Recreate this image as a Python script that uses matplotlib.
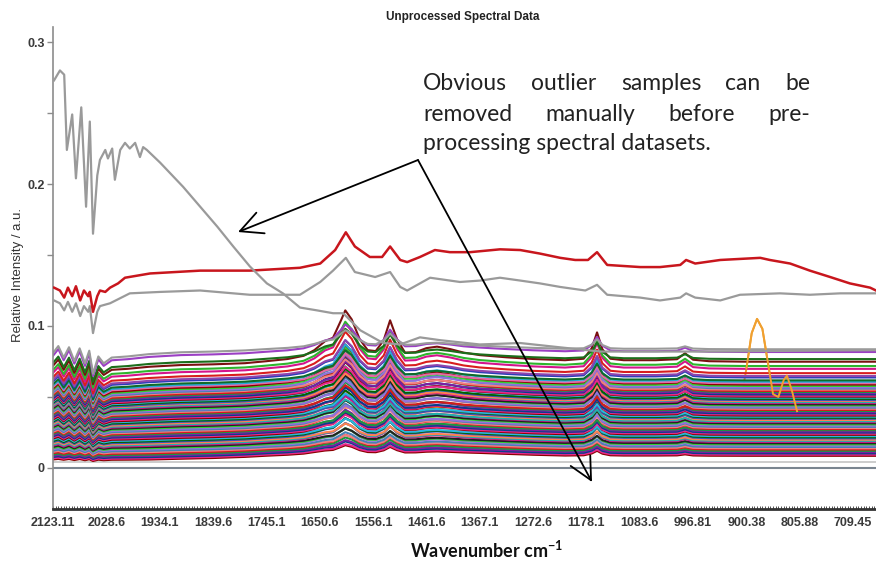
import numpy as np
import matplotlib.pyplot as plt
from matplotlib.ticker import MultipleLocator

# x axis is drawn on the tick-index scale; labels carry the wavenumbers
tick_labels = ['2123.11', '2028.6', '1934.1', '1839.6', '1745.1', '1650.6',
               '1556.1', '1461.6', '1367.1', '1272.6', '1178.1', '1083.6',
               '996.81', '900.38', '805.88', '709.45']
tick_pos = np.arange(len(tick_labels))

# shared knot positions for the bulk spectra
knots = [0.00, 0.10, 0.20, 0.30, 0.40, 0.50, 0.60, 0.68, 0.75, 0.85,
         0.95, 1.10, 1.40, 1.80, 2.40, 3.00, 3.60, 4.00, 4.40, 4.70,
         4.90, 5.10, 5.25, 5.40, 5.48, 5.60, 5.75, 5.90, 6.05, 6.20,
         6.32, 6.45, 6.60, 6.80, 7.00, 7.20, 7.45, 7.70, 8.00, 8.50,
         9.00, 9.60, 9.95, 10.10, 10.20, 10.30, 10.45, 10.70, 11.30, 11.70,
         11.85, 12.00, 12.30, 13.00, 13.60, 14.20, 14.80, 15.45]
# relative ripple in the high-wavenumber end
ripple = [0, 0.06, -0.04, 0.05, -0.07, 0.04, -0.09, 0.02, -0.18, -0.03,
          -0.09, -0.04, -0.03, -0.01] + [0] * 44
# common baseline lift
lift = ([0] * 14 + [0.0005, 0.001, 0.0018, 0.0025, 0.003, 0.0035]
        + [0.004] * 19 + [0.0035, 0.003] + [0.0025] * 17)
# band profile (1 = amide band maximum)
bands = ([0] * 17 + [0.02, 0.05, 0.10, 0.20, 0.38, 0.45, 0.80, 1.00, 0.82, 0.42,
                     0.20, 0.18, 0.40, 0.80, 0.42, 0.15, 0.16, 0.24, 0.27, 0.22,
                     0.15, 0.10, 0.07, 0.05, 0.04, 0.07, 0.28, 0.60, 0.26, 0.07,
                     0.04, 0.04, 0.06, 0.18, 0.05, 0.02, 0.01, 0.01, 0.01, 0.01,
                     0.01])

sample_level = [0.081, 0.079, 0.074, 0.072, 0.069, 0.067, 0.064, 0.062, 0.061, 0.059,
                0.058, 0.057, 0.056,
                0.0550, 0.0540, 0.0532, 0.0525, 0.0515, 0.0508, 0.0500, 0.0490, 0.0482, 0.0475,
                0.0468, 0.0460, 0.0451, 0.0445, 0.0437, 0.0430, 0.0421, 0.0413, 0.0405, 0.0398,
                0.0390, 0.0382, 0.0375, 0.0366, 0.0358, 0.0350, 0.0342, 0.0335, 0.0327, 0.0320,
                0.0311, 0.0303, 0.0296, 0.0288, 0.0280, 0.0271, 0.0263, 0.0255, 0.0247, 0.0240,
                0.0231, 0.0223, 0.0215, 0.0207, 0.0198, 0.0190, 0.0182, 0.0173, 0.0165, 0.0157,
                0.0148, 0.0140, 0.0131, 0.0122, 0.0113, 0.0104, 0.0095, 0.0086, 0.0077, 0.0068,
                0.0060]
sample_peak = [0.012, 0.018, 0.020, 0.035, 0.030, 0.031, 0.028, 0.024, 0.025, 0.020,
               0.025, 0.020, 0.027,
               0.026, 0.022, 0.028, 0.020, 0.024, 0.027, 0.021, 0.025, 0.019, 0.023,
               0.026, 0.020, 0.022, 0.018, 0.024, 0.021, 0.019, 0.023, 0.017, 0.020,
               0.022, 0.016, 0.019, 0.021, 0.017, 0.018, 0.020, 0.015, 0.018, 0.016,
               0.019, 0.014, 0.017, 0.015, 0.016, 0.013, 0.015, 0.014, 0.016, 0.012,
               0.014, 0.013, 0.012, 0.014, 0.011, 0.012, 0.013, 0.010, 0.011, 0.012,
               0.009, 0.010, 0.011, 0.009, 0.008, 0.009, 0.008, 0.007, 0.007, 0.006,
               0.006]

top_colors = ['#9a9a9a', '#9b3fc4', '#1b6e1b', '#7a1010', '#2db52d', '#d4148c',
              '#d81e1e', '#8e44ad', '#2a3fb8', '#0f6b2a', '#27a9d8', '#e46aa6', '#8b0000']
palette = ['#d7191c', '#1a9641', '#7b1fa2', '#0b3c8c', '#e7298a', '#8b0000',
           '#2bb5e0', '#006400', '#3f51b5', '#ff7f50', '#20b2aa', '#c71585',
           '#222222', '#32cd32', '#9370db', '#4682b4', '#f08080']

# outlier spectra
grey_big_x = [0.02, 0.13, 0.21, 0.26, 0.36, 0.43, 0.53, 0.62, 0.69, 0.75, 0.83, 0.88,
              0.98, 1.03, 1.11, 1.16, 1.26, 1.35, 1.44, 1.54, 1.63, 1.69, 1.76, 2.01,
              2.44, 2.76, 3.08, 3.38, 3.69, 4.01, 4.31, 4.63, 4.95, 5.25, 5.44, 5.76,
              6.19, 6.51, 6.88, 7.26, 8.00, 8.76, 9.50, 10.26, 12.13, 15.43]
grey_big_y = [0.273, 0.280, 0.277, 0.224, 0.249, 0.204, 0.254, 0.184, 0.244, 0.165, 0.206, 0.217,
              0.224, 0.218, 0.225, 0.203, 0.224, 0.229, 0.225, 0.229, 0.219, 0.226, 0.224, 0.215,
              0.198, 0.184, 0.170, 0.156, 0.142, 0.130, 0.123, 0.113, 0.111, 0.109, 0.109, 0.097,
              0.088, 0.087, 0.092, 0.090, 0.087, 0.088, 0.085, 0.082, 0.082, 0.083]

red_x = [0.02, 0.13, 0.21, 0.28, 0.36, 0.43, 0.51, 0.58, 0.66, 0.69, 0.75, 0.83, 0.88,
         0.98, 1.07, 1.22, 1.35, 1.82, 2.76, 3.69, 4.63, 5.01, 5.29, 5.49, 5.66, 5.94,
         6.17, 6.32, 6.51, 6.64, 6.88, 7.16, 7.44, 7.82, 8.38, 8.76, 9.13, 9.51, 9.79,
         10.03, 10.20, 10.39, 11.01, 11.38, 11.76, 11.87, 12.04, 12.51, 13.26, 13.44,
         13.82, 14.19, 14.57, 14.94, 15.32, 15.43]
red_y = [0.127, 0.125, 0.120, 0.127, 0.121, 0.128, 0.118, 0.125, 0.121, 0.124, 0.110, 0.121, 0.125,
         0.124, 0.127, 0.130, 0.134, 0.137, 0.139, 0.139, 0.141, 0.144, 0.1535, 0.166, 0.156, 0.1486,
         0.1486, 0.156, 0.1465, 0.145, 0.1486, 0.1535, 0.152, 0.152, 0.154, 0.1535, 0.151, 0.148, 0.1465,
         0.1465, 0.152, 0.143, 0.1415, 0.1415, 0.143, 0.1465, 0.144, 0.1465, 0.148, 0.1465,
         0.144, 0.139, 0.1345, 0.130, 0.127, 0.125]

grey2_x = [0.02, 0.13, 0.21, 0.28, 0.36, 0.43, 0.51, 0.58, 0.66, 0.69, 0.75, 0.83, 0.88,
           1.07, 1.44, 2.01, 2.76, 3.69, 4.63, 5.01, 5.25, 5.49, 5.66, 6.04, 6.32, 6.51,
           6.64, 7.07, 7.63, 8.01, 8.38, 8.76, 9.13, 9.51, 9.98, 10.20, 10.39, 11.01,
           11.38, 11.76, 11.87, 12.04, 12.51, 12.88, 13.63, 14.19, 14.76, 15.43]
grey2_y = [0.118, 0.116, 0.111, 0.117, 0.110, 0.116, 0.107, 0.114, 0.110, 0.114, 0.095, 0.110, 0.114,
           0.116, 0.123, 0.124, 0.125, 0.122, 0.122, 0.131, 0.139, 0.148, 0.138, 0.1345, 0.138, 0.1275,
           0.125, 0.134, 0.131, 0.132, 0.134, 0.132, 0.130, 0.1275, 0.125, 0.129, 0.122, 0.120,
           0.118, 0.120, 0.123, 0.120, 0.118, 0.122, 0.123, 0.122, 0.123, 0.123]

orange_x = [0.0, 12.40, 12.70, 12.90, 13.00, 13.10, 13.20, 13.30, 13.40, 13.50,
            13.60, 13.70, 13.76, 13.85, 13.95, 14.05, 14.30, 15.43]
orange_y = [0.042, 0.043, 0.044, 0.048, 0.070, 0.095, 0.105, 0.098, 0.075, 0.052,
            0.050, 0.062, 0.065, 0.055, 0.040, 0.031, 0.029, 0.030]

floor_x = [0.0, 15.43]
floor_y = [0.004, 0.004]

note_lines = [['Obvious', 'outlier', 'samples', 'can', 'be'],
              ['removed', 'manually', 'before', 'pre-']]
note_last = 'processing spectral datasets.'

fig = plt.figure(figsize=(8.76, 5.61), dpi=100)
ax = fig.add_axes([53 / 876, 52 / 561, 823 / 876, 482 / 561])

k = np.array(knots)
lvl = np.array(sample_level)[:, None]
pk = np.array(sample_peak)[:, None]
spectra = lvl * (1 + np.array(ripple)) + np.array(lift) + pk * np.array(bands)

ax.plot(floor_x, floor_y, color='#c8c8c8', lw=1.3, zorder=1)
ax.plot(orange_x, orange_y, color='#f0a030', lw=1.4, zorder=1.5)
for i in range(len(spectra) - 1, -1, -1):
    c = top_colors[i] if i < len(top_colors) else palette[i % len(palette)]
    ax.plot(k, spectra[i], color=c, lw=1.5, zorder=2)
ax.plot(orange_x[4:15], orange_y[4:15], color='#f0a030', lw=1.4, zorder=3)
ax.plot(grey2_x, grey2_y, color='#9a9a9a', lw=1.6, zorder=3)
ax.plot(red_x, red_y, color='#c8161d', lw=1.8, zorder=3)
ax.plot(grey_big_x, grey_big_y, color='#9a9a9a', lw=1.6, zorder=3)
ax.axhline(0, color='#7a8590', lw=1.5, zorder=1)

ax.set_xlim(0, 15.43)
ax.set_ylim(-0.0289, 0.3106)

for s in ['top', 'right']:
    ax.spines[s].set_visible(False)
ax.spines['left'].set_color('#8c8c8c')
ax.spines['left'].set_linewidth(1.2)
ax.spines['bottom'].set_color('#333333')
ax.spines['bottom'].set_linewidth(2)

tick_font = dict(family='Liberation Sans', weight='bold', size=9)
ax.set_xticks(tick_pos)
ax.set_xticklabels(tick_labels, color='#3a3a3a', **tick_font)
ax.xaxis.set_minor_locator(MultipleLocator(0.05))
ax.tick_params(axis='x', which='both', direction='in', length=2.5, width=0.6,
               color='#333333', pad=6)
ax.set_yticks([0, 0.1, 0.2, 0.3])
ax.set_yticklabels(['0', '0.1', '0.2', '0.3'], color='#3a3a3a', **tick_font)
ax.yaxis.set_minor_locator(MultipleLocator(0.05))
ax.tick_params(axis='y', which='both', direction='out', length=4, width=1,
               color='#8c8c8c', pad=2)

fig.text(463 / 876, 1 - 17 / 561, 'Unprocessed Spectral Data', ha='center', va='center',
         family='Liberation Sans', weight='bold', size=8.5, color='#222222')
fig.text(18 / 876, 1 - 275 / 561, 'Relative Intensity / a.u.', rotation=90,
         ha='center', va='center', family='Liberation Sans', size=9.5, color='#333333')
plt.rcParams['mathtext.default'] = 'regular'
fig.text(487 / 876, 1 - 550 / 561, 'Wavenumber cm$^{-1}$', ha='center', va='center',
         family='Lato', weight='bold', size=13, color='#111111')

# justified note: first two lines spread between 423 px and 810 px
note_font = dict(family='Lato', size=16.5, color='#222222', va='baseline')
left_px, right_px = 423, 810
renderer = fig.canvas.get_renderer()
for words, base in zip(note_lines, [90, 121]):
    texts = [fig.text(0, 1 - base / 561, w, **note_font) for w in words]
    widths = [t.get_window_extent(renderer).width for t in texts]
    gap = (right_px - left_px - sum(widths)) / (len(words) - 1)
    x = left_px
    for t, w in zip(texts, widths):
        t.set_x(x / 876)
        x += w + gap
fig.text(left_px / 876, 1 - 150 / 561, note_last, **note_font)

arrow = dict(arrowstyle='->,head_length=0.8,head_width=0.4', color='black', lw=1.3,
             mutation_scale=20, shrinkA=0, shrinkB=0)
for head in [(238, 561 - 232), (592, 561 - 482)]:
    ax.annotate('', xy=head, xycoords='figure pixels', xytext=(418, 561 - 160),
                textcoords='figure pixels', arrowprops=arrow, annotation_clip=False,
                zorder=10)

fig.savefig('out.png', dpi=100)
